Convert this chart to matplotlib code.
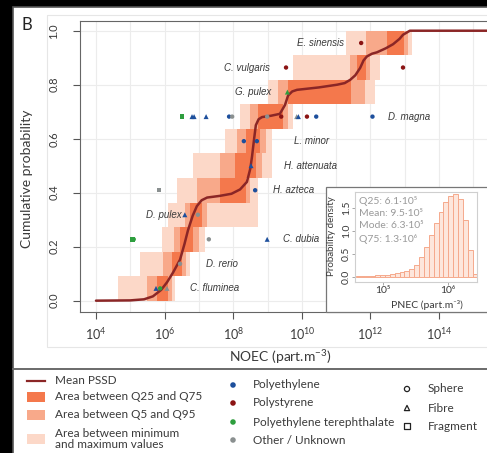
import numpy as np
import matplotlib.pyplot as plt
from matplotlib.patches import Rectangle
from matplotlib.ticker import FixedLocator, NullFormatter

plt.rcParams['font.family'] = ['Lato', 'DejaVu Sans']
plt.rcParams['mathtext.fontset'] = 'custom'
plt.rcParams['mathtext.rm'] = 'Lato'
plt.rcParams['mathtext.it'] = 'Lato:italic'
plt.rcParams['mathtext.bf'] = 'Lato:bold'

W, H = 487, 453

# --- species ranks (bottom to top) and their spread of NOEC, log10 part/m3
species = ["C. fluminea", "D. rerio", "C. dubia", "D. pulex", "H. azteca", "H. attenuata",
           "L. minor", "D. magna", "G. pulex", "C. vulgaris", "E. sinensis"]
min_lo = [4.64, 5.28, 5.92, 6.10, 6.36, 6.83, 7.76, 8.20, 9.01, 9.74, 11.29]
max_hi = [6.30, 6.74, 7.18, 8.72, 8.72, 9.13, 9.13, 9.74, 12.13, 12.28, 13.21]
q5_lo = [5.49, 5.95, 6.27, 6.59, 6.94, 7.62, 8.11, 8.49, 9.31, 11.41, 11.87]
q95_hi = [6.22, 6.62, 7.00, 7.24, 8.49, 8.84, 8.96, 9.60, 11.84, 11.99, 13.10]
q25_lo = [5.78, 6.22, 6.45, 6.74, 7.62, 8.05, 8.37, 8.72, 9.60, 11.61, 12.48]
q75_hi = [6.10, 6.51, 6.83, 7.09, 8.37, 8.66, 8.78, 9.45, 11.43, 11.87, 12.98]

# mean PSSD
pssd_logx = [4.00, 5.00, 5.40, 5.66, 5.90, 6.07, 6.25, 6.45, 6.58, 6.68, 6.82, 6.94, 7.08,
             7.24, 7.60, 7.95, 8.20, 8.40, 8.50, 8.55, 8.61, 8.66, 8.74, 8.84, 9.10, 9.36,
             9.51, 9.60, 9.72, 9.86, 10.50, 11.03, 11.25, 11.41, 11.56, 11.70, 11.80, 11.90,
             12.05, 12.19, 12.45, 12.66, 12.85, 12.95, 13.15, 16.00]
pssd_p = [0.000, 0.001, 0.005, 0.016, 0.040, 0.068, 0.105, 0.152, 0.210, 0.260, 0.315, 0.350,
          0.372, 0.382, 0.388, 0.396, 0.412, 0.440, 0.490, 0.535, 0.600, 0.650, 0.672, 0.680,
          0.685, 0.692, 0.725, 0.760, 0.775, 0.781, 0.790, 0.800, 0.806, 0.818, 0.835, 0.862,
          0.890, 0.905, 0.915, 0.920, 0.935, 0.950, 0.970, 0.985, 1.000, 1.000]

# individual NOEC values
pt_rank = [0, 0, 0, 1, 2, 2, 2, 2, 3, 3, 4, 4, 5, 6, 6,
           7, 7, 7, 7, 7, 7, 7, 7, 7, 7, 7, 7, 7, 8, 9, 9, 10]
pt_logx = [5.75, 5.87, 6.07, 6.45, 5.06, 5.10, 7.29, 8.99, 6.59, 6.97, 5.84, 8.64, 8.52, 8.31, 8.69,
           6.51, 6.80, 6.86, 7.21, 7.88, 7.97, 8.99, 9.40, 9.85, 9.90, 10.15, 10.42, 12.06,
           9.58, 9.54, 12.95, 11.73]
pt_polymer = ["PE", "PET", "OT", "OT", "PET", "PET", "OT", "PE", "PE", "OT", "OT", "PE", "PE", "PE", "PE",
              "PET", "PE", "PE", "PE", "PE", "OT", "OT", "PS", "OT", "PE", "PS", "PE", "PE",
              "PET", "PS", "PS", "PS"]
pt_shape = ["fibre", "sphere", "fibre", "sphere", "fragment", "sphere", "sphere", "fibre", "fibre", "sphere",
            "fragment", "sphere", "fibre", "sphere", "sphere",
            "fragment", "fibre", "fibre", "fibre", "sphere", "sphere", "sphere", "sphere", "fibre", "fibre",
            "sphere", "sphere", "sphere", "fibre", "sphere", "sphere", "sphere"]

# PNEC distribution (inset histogram)
pnec_bin_lo = [4.580, 4.655, 4.730, 4.805, 4.880, 4.955, 5.030, 5.105, 5.180, 5.255, 5.330, 5.405,
               5.480, 5.555, 5.630, 5.705, 5.780, 5.855, 5.930, 6.005, 6.080, 6.155, 6.230, 6.305, 6.380]
pnec_density = [0.03, 0.03, 0.03, 0.03, 0.04, 0.04, 0.05, 0.06, 0.08, 0.10, 0.12, 0.17,
                0.26, 0.44, 0.66, 0.91, 1.17, 1.42, 1.64, 1.76, 1.80, 1.70, 1.25, 0.58, 0.06]
pnec_bin_w = 0.075
pnec_stats = ["Q25: 6.1·10⁵", "Mean: 9.5·10⁵", "Mode: 6.3·10⁵", "Q75: 1.3·10⁶"]

polymer_names = {"PE": "Polyethylene", "PS": "Polystyrene",
                 "PET": "Polyethylene terephthalate", "OT": "Other / Unknown"}
polymer_col = {"PE": "#1d4f9c", "PS": "#8b1414", "PET": "#2e9e3e", "OT": "#8a9090"}
shape_mk = {"sphere": "o", "fibre": "^", "fragment": "s"}
shape_names = {"sphere": "Sphere", "fibre": "Fibre", "fragment": "Fragment"}

c_dark = "#f4784c"
c_mid = "#f8a98a"
c_light = "#fcd8c8"
c_line = "#8b2626"
txt = "#3a3a3a"

# label placement: (anchor log10 x, horizontal alignment)
label_pos = {"E. sinensis": (11.23, "right"), "C. vulgaris": (9.07, "right"),
             "G. pulex": (9.10, "right"), "D. magna": (12.51, "left"),
             "L. minor": (9.77, "left"), "H. attenuata": (9.48, "left"),
             "H. azteca": (9.16, "left"), "C. dubia": (9.45, "left"),
             "D. pulex": (6.51, "right"), "D. rerio": (7.21, "left"),
             "C. fluminea": (6.74, "left")}


def box(px0, py0, px1, py1):
    return [px0 / W, 1 - py1 / H, (px1 - px0) / W, (py1 - py0) / H]


def overlay(z):
    a = fig.add_axes([0, 0, 1, 1], zorder=z)
    a.set_xlim(0, W)
    a.set_ylim(H, 0)
    a.axis("off")
    a.patch.set_alpha(0)
    return a


fig = plt.figure(figsize=(W / 100, H / 100), dpi=100, facecolor="black")

# background panel + legend area drawn in pixel units
bg = overlay(-1)
bg.add_patch(Rectangle((13, 7), W, H, facecolor="white", edgecolor="#555555", lw=1.2))
bg.add_patch(Rectangle((47, 15), W, 332, facecolor="none", edgecolor="#e6e6e6", lw=0.8))
bg.plot([13, W], [369, 369], color="#6a6a6a", lw=1.4)

bg.text(27, 25, "B", fontsize=12, color="#222222", ha="center", va="center")
bg.text(27, 179, "Cumulative probability", fontsize=10, color=txt, rotation=90,
        ha="center", va="center")
bg.text(280, 357, "NOEC (part.m$^{-3}$)", fontsize=10, color=txt, ha="center", va="center")

# legend, left column
bg.plot([27, 45], [381, 381], color=c_line, lw=1.6)
bg.text(55, 381, "Mean PSSD", fontsize=8.5, color=txt, va="center")
for yy, col, lab in [(397, c_dark, "Area between Q25 and Q75"),
                     (415, c_mid, "Area between Q5 and Q95"),
                     (439, c_light, "Area between minimum\nand maximum values")]:
    bg.add_patch(Rectangle((27, yy - 5), 18, 10, facecolor=col, edgecolor="none"))
    bg.text(55, yy, lab, fontsize=8.5, color=txt, va="center", linespacing=1.05)

# legend, polymer column
for yy, key in zip([385, 403, 422, 440], ["PE", "PS", "PET", "OT"]):
    bg.scatter([233], [yy], s=16, color=polymer_col[key], edgecolors="none")
    bg.text(253, yy, polymer_names[key], fontsize=8.5, color=txt, va="center")

# legend, shape column
for yy, key in zip([389, 408, 426], ["sphere", "fibre", "fragment"]):
    bg.scatter([407], [yy], s=14, marker=shape_mk[key], facecolors="none",
               edgecolors="#222222", linewidths=0.9)
    bg.text(428, yy, shape_names[key], fontsize=8.5, color=txt, va="center")

# --- main SSD panel
ax = fig.add_axes(box(80, 21, 497, 312))
ax.set_facecolor("white")
ax.set_xscale("log")
ax.set_xlim(10 ** 3.534, 10 ** 15.69)
ax.set_ylim(-0.042, 1.036)

ax.xaxis.set_major_locator(FixedLocator([10.0 ** k for k in range(4, 16, 2)]))
ax.xaxis.set_minor_locator(FixedLocator([10.0 ** k for k in range(5, 16, 2)]))
ax.xaxis.set_minor_formatter(NullFormatter())
ax.set_xticklabels(["10$^{%d}$" % k for k in range(4, 16, 2)])
ax.set_yticks([0, 0.2, 0.4, 0.6, 0.8, 1.0])
ax.set_yticklabels(["0.0", "0.2", "0.4", "0.6", "0.8", "1.0"], rotation=90, va="center")
ax.tick_params(axis="x", which="major", length=5, width=0.8, color="#555555",
               labelsize=9, labelcolor=txt, pad=5)
ax.tick_params(axis="x", which="minor", length=0)
ax.tick_params(axis="y", length=5, width=0.8, color="#555555", labelsize=8,
               labelcolor=txt, pad=10)
ax.grid(True, which="both", color="#ececec", lw=0.8)
ax.set_axisbelow(True)
for s in ax.spines.values():
    s.set_color("#666666")
    s.set_linewidth(0.8)

step = 1.0 / len(species)
for i in range(len(species)):
    y0 = i * step
    for lo, hi, col in [(min_lo, max_hi, c_light), (q5_lo, q95_hi, c_mid), (q25_lo, q75_hi, c_dark)]:
        ax.add_patch(Rectangle((10 ** lo[i], y0), 10 ** hi[i] - 10 ** lo[i], step,
                               facecolor=col, edgecolor="none", zorder=1))

ax.plot(10 ** np.array(pssd_logx), pssd_p, color=c_line, lw=1.8, zorder=3,
        solid_capstyle="round")

pt_y = (np.array(pt_rank) + 0.5) * step
for k in range(len(pt_logx)):
    mk = shape_mk[pt_shape[k]]
    ax.scatter(10 ** pt_logx[k], pt_y[k], s=13 if mk == "^" else 10, marker=mk,
               color=polymer_col[pt_polymer[k]], edgecolors="none", zorder=4)

for i, name in enumerate(species):
    lx, ha = label_pos[name]
    ax.text(10 ** lx, (i + 0.5) * step, name, fontsize=7, style="italic",
            family=["Liberation Sans", "DejaVu Sans"], color=txt, ha=ha, va="center", zorder=5)

# --- inset with PNEC distribution
frame = overlay(5)
frame.add_patch(Rectangle((326, 187), 200, 125, facecolor="white", edgecolor="#777777", lw=0.9))
frame.text(331, 236, "Probability density", fontsize=7, color=txt, rotation=90,
           ha="center", va="center")
frame.text(427, 305, "PNEC (part.m⁻³)", fontsize=7.5, color=txt, ha="center", va="center")

ins = fig.add_axes(box(355, 192, 477, 282), zorder=6)
ins.set_xscale("log")
ins.set_xlim(10 ** 4.569, 10 ** 6.446)
ins.set_ylim(-0.109, 1.848)
lo = 10 ** np.array(pnec_bin_lo)
hi = 10 ** (np.array(pnec_bin_lo) + pnec_bin_w)
ins.bar(lo, pnec_density, width=hi - lo, align="edge", facecolor="#fde6dc",
        edgecolor="#f5a98c", lw=0.7)
ins.xaxis.set_major_locator(FixedLocator([1e5, 1e6]))
ins.xaxis.set_minor_locator(FixedLocator([]))
ins.set_xticklabels(["10⁵", "10⁶"])
ins.set_yticks([0, 0.5, 1.0, 1.5])
ins.set_yticklabels(["0.0", "0.5", "1.0", "1.5"], rotation=90, va="center")
ins.tick_params(axis="both", length=2, width=0.6, color="#999999", labelsize=7.5,
                labelcolor=txt, pad=1)
for s in ins.spines.values():
    s.set_color("#cfcfcf")
    s.set_linewidth(0.8)

stats_layer = overlay(7)
for j, line in enumerate(pnec_stats):
    stats_layer.text(359, 201 + j * 12.5, line, fontsize=7.5, color="#9a9a9a", va="center")

fig.savefig("out.png", dpi=100, facecolor=fig.get_facecolor())
